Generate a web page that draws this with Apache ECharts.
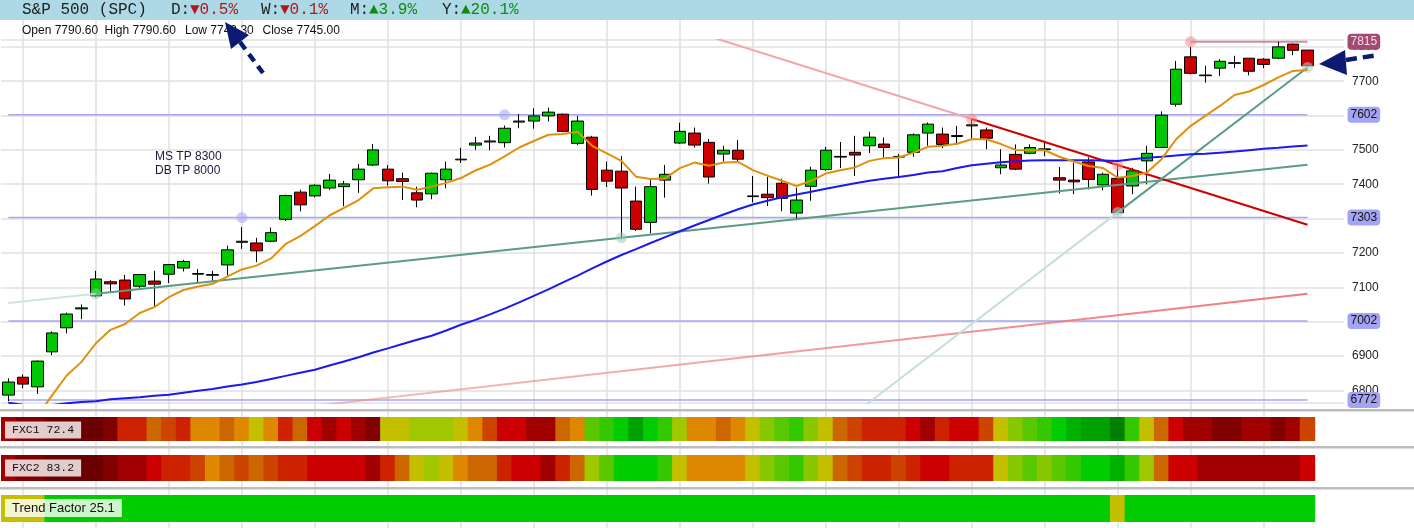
<!DOCTYPE html>
<html>
<head>
<meta charset="utf-8">
<title>S&amp;P 500 (SPC)</title>
<script src="https://cdn.jsdelivr.net/npm/echarts@6/dist/echarts.min.js"></script>
<style>
html, body { margin: 0; padding: 0; background: #fff; }
#chart-panel { width: 1414px; height: 528px; }
</style>
</head>
<body>
<div id="chart-panel"></div>
<script>
// daily candles: [open, close, low, high]
var candles = [
    [6786, 6824, 6768, 6835], [6838, 6818, 6806, 6846], [6810, 6885, 6789, 6887], [6912, 6967, 6902, 6972],
    [6982, 7022, 6966, 7026], [7037, 7040, 7007, 7050], [7075, 7124, 7072, 7148], [7116, 7110, 7083, 7121],
    [7121, 7066, 7047, 7136], [7103, 7137, 7098, 7139], [7118, 7109, 7042, 7148], [7138, 7166, 7112, 7168],
    [7156, 7175, 7146, 7180], [7138, 7140, 7115, 7153], [7135, 7137, 7115, 7148], [7165, 7209, 7134, 7221],
    [7231, 7234, 7212, 7275], [7229, 7206, 7173, 7244], [7234, 7259, 7231, 7274], [7298, 7367, 7293, 7370],
    [7377, 7340, 7321, 7384], [7366, 7397, 7362, 7400], [7389, 7412, 7383, 7430], [7393, 7401, 7336, 7410],
    [7413, 7444, 7375, 7459], [7456, 7500, 7453, 7517], [7444, 7410, 7396, 7456], [7416, 7408, 7354, 7434],
    [7375, 7354, 7333, 7393], [7372, 7432, 7356, 7434], [7413, 7444, 7388, 7466], [7471, 7473, 7462, 7506],
    [7514, 7520, 7500, 7538], [7523, 7526, 7499, 7541], [7521, 7563, 7507, 7571], [7581, 7584, 7563, 7604],
    [7584, 7599, 7562, 7621], [7599, 7610, 7583, 7623], [7604, 7554, 7551, 7606], [7519, 7584, 7514, 7599],
    [7537, 7385, 7367, 7541], [7441, 7409, 7392, 7466], [7438, 7389, 7240, 7482], [7351, 7269, 7264, 7393],
    [7289, 7393, 7257, 7414], [7412, 7429, 7361, 7456], [7520, 7554, 7517, 7579], [7549, 7514, 7507, 7565],
    [7522, 7421, 7402, 7532], [7488, 7499, 7466, 7512], [7499, 7473, 7463, 7529], [7364, 7366, 7347, 7424],
    [7371, 7361, 7336, 7422], [7403, 7359, 7321, 7416], [7316, 7354, 7295, 7390], [7394, 7441, 7352, 7451],
    [7443, 7499, 7439, 7509], [7479, 7481, 7447, 7523], [7493, 7485, 7424, 7541], [7512, 7537, 7491, 7553],
    [7517, 7507, 7478, 7536], [7479, 7481, 7418, 7488], [7493, 7544, 7480, 7548], [7549, 7575, 7512, 7580],
    [7546, 7516, 7505, 7565], [7539, 7542, 7516, 7570], [7570, 7573, 7531, 7592], [7558, 7534, 7502, 7565],
    [7448, 7456, 7429, 7502], [7487, 7444, 7441, 7516], [7490, 7507, 7487, 7516], [7501, 7503, 7482, 7526],
    [7419, 7412, 7373, 7450], [7412, 7407, 7371, 7463], [7465, 7414, 7385, 7478], [7398, 7429, 7382, 7434],
    [7417, 7317, 7312, 7460], [7395, 7439, 7371, 7448], [7468, 7490, 7400, 7512], [7507, 7601, 7505, 7612],
    [7633, 7735, 7626, 7759], [7771, 7723, 7720, 7800], [7716, 7718, 7696, 7745], [7738, 7758, 7715, 7764],
    [7752, 7754, 7738, 7774], [7767, 7729, 7717, 7767], [7764, 7749, 7738, 7767], [7767, 7800, 7764, 7815],
    [7808, 7790, 7776, 7810], [7790.6, 7745, 7743.3, 7790.6]
];

var fastAvg = ['-', '-', 6727, 6785, 6843, 6882, 6937, 6976, 6993, 7025,
    7042, 7071, 7092, 7102, 7110, 7131, 7152, 7163, 7184, 7226,
    7249, 7278, 7309, 7331, 7354, 7388, 7391, 7393, 7384, 7393,
    7404, 7418, 7440, 7457, 7481, 7507, 7526, 7544, 7546, 7553,
    7512, 7490, 7468, 7422, 7415, 7417, 7447, 7463, 7454, 7463,
    7465, 7441, 7425, 7410, 7395, 7410, 7431, 7441, 7449, 7468,
    7476, 7478, 7492, 7509, 7512, 7518, 7531, 7531, 7517, 7500,
    7499, 7499, 7480, 7466, 7453, 7447, 7419, 7424, 7434, 7473,
    7531, 7570, 7599, 7628, 7660, 7670, 7689, 7711, 7730, 7733];

var slowAvg = [6764, 6758, 6755, 6757, 6762, 6766, 6768, 6774, 6777, 6780,
    6784, 6787, 6793, 6799, 6804, 6811, 6817, 6824, 6833, 6842,
    6851, 6860, 6872, 6884, 6896, 6910, 6922, 6935, 6947, 6959,
    6974, 6991, 7005, 7021, 7038, 7056, 7075, 7094, 7114, 7134,
    7155, 7175, 7194, 7211, 7229, 7246, 7263, 7280, 7296, 7312,
    7327, 7341, 7352, 7362, 7370, 7378, 7387, 7395, 7403, 7410,
    7416, 7421, 7427, 7434, 7438, 7447, 7455, 7460, 7464, 7467,
    7469, 7470, 7470, 7470, 7470, 7469, 7468, 7473, 7477, 7480,
    7484, 7487, 7489, 7492, 7495, 7499, 7503, 7506, 7510, 7513];

// support / resistance levels shown on the price axis
var levels = [7602, 7303, 7002, 6772];
var topLevel = 7815, topLevelFrom = 81;
var levelAnchors = [[16, 7303], [34, 7602]];

// trend lines as [candle index, price]
var greenTrendFaint = [[0, 7054], [6, 7081]];
var greenTrend = [[6, 7081], [42, 7244], [89, 7457]];
var greenAnchors = [[6, 7081], [42, 7244]];
var redTrendFaint = [[45, 7871], [66, 7590]];
var redTrend = [[66, 7590], [76, 7456], [89, 7282]];
var redAnchors = [[66, 7590], [76, 7456], [81, 7815]];
var pinkTrend = [[20, 6750], [89, 7081]];
var tealTrendFaint = [[55, 6636], [76, 7318]];
var tealTrend = [[76, 7318], [89, 7740]];
var tealAnchors = [[76, 7318], [89, 7740]];

// indicator strips, one colour step per candle (0 = strong red ... 16 = strong green)
var fxc1 = [2, 1, 1, 0, 0, 0, 0, 1, 4, 4, 6, 5, 4, 7, 7, 6, 7, 8, 7, 4,
    6, 3, 2, 3, 2, 1, 8, 8, 9, 9, 9, 8, 7, 5, 3, 3, 2, 2, 6, 7,
    11, 12, 13, 15, 13, 12, 9, 7, 7, 6, 7, 8, 10, 11, 12, 10, 8, 6, 5, 4,
    4, 4, 3, 2, 4, 3, 3, 5, 8, 10, 11, 12, 13, 14, 15, 15, 16, 12, 8, 6,
    3, 2, 2, 1, 1, 2, 2, 1, 2, 5];
var fxc2 = [2, 1, 1, 0, 0, 0, 0, 1, 2, 2, 3, 4, 4, 5, 7, 6, 5, 6, 5, 4,
    4, 3, 3, 3, 3, 2, 4, 6, 8, 9, 8, 7, 6, 6, 4, 3, 3, 2, 4, 6,
    9, 11, 13, 13, 13, 12, 8, 7, 7, 7, 7, 8, 10, 11, 12, 10, 8, 6, 5, 4,
    4, 5, 4, 3, 3, 4, 4, 4, 8, 10, 11, 10, 11, 12, 13, 13, 14, 12, 9, 6,
    3, 3, 2, 2, 2, 2, 2, 2, 2, 3];
var trendFactor = [8, 8, 8, 13, 13, 13, 13, 13, 13, 13, 13, 13, 13, 13, 13, 13, 13, 13, 13, 13,
    13, 13, 13, 13, 13, 13, 13, 13, 13, 13, 13, 13, 13, 13, 13, 13, 13, 13, 13, 13,
    13, 13, 13, 13, 13, 13, 13, 13, 13, 13, 13, 13, 13, 13, 13, 13, 13, 13, 13, 13,
    13, 13, 13, 13, 13, 13, 13, 13, 13, 13, 13, 13, 13, 13, 13, 13, 8, 13, 13, 13,
    13, 13, 13, 13, 13, 13, 13, 13, 13, 13];
var palette = ['#6a0000', '#800000', '#a00000', '#cc0000', '#cc2200', '#cc4400', '#cc6600', '#dd8800',
    '#c4c000', '#a0c800', '#88c800', '#5ac800', '#33c800', '#00cc00', '#00b000', '#00a000', '#008000'];

var header = { name: 'S&P 500 (SPC)', day: '▼0.5%', week: '▼0.1%', month: '▲3.9%', year: '▲20.1%' };
var lastBar = 'Open 7790.60|High 7790.60|Low 7743.30|Close 7745.00'.split('|');

var days = [];
for (var d = 0; d < 92; d++) { days.push('D' + (d + 1)); }

var sans = 'Arial, "Liberation Sans", sans-serif';
var mono = '"Liberation Mono", "Courier New", monospace';

// one strip = one bar per candle, a bit wider than the band so no seams show
function strip(levelsArr, idx) {
    return {
        type: 'bar', xAxisIndex: idx, yAxisIndex: idx, barWidth: 15.4, silent: true,
        data: levelsArr.map(function (lv) {
            return { value: 1, itemStyle: { color: palette[lv] } };
        })
    };
}

function trendLine(points, color, width, z) {
    return {
        type: 'line', xAxisIndex: 1, yAxisIndex: 1, data: points, symbol: 'none', silent: true,
        lineStyle: { color: color, width: width }, z: z || 4
    };
}

function dots(points, color) {
    return {
        type: 'scatter', xAxisIndex: 1, yAxisIndex: 1, data: points, symbolSize: 11, silent: true,
        itemStyle: { color: color }, z: 5
    };
}

var series = [];
levels.forEach(function (lv) {
    series.push({
        type: 'line', xAxisIndex: 1, yAxisIndex: 1, data: [[0, lv], [89, lv]], symbol: 'none', silent: true,
        lineStyle: { color: '#a6a6f2', width: 1.5 }, z: 1,
        endLabel: { show: true, formatter: String(lv), distance: 40, backgroundColor: '#a4a4f4', color: '#111',
            borderRadius: 4, padding: [2, 3], fontSize: 12, fontFamily: sans }
    });
});
series.push({
    type: 'line', xAxisIndex: 1, yAxisIndex: 1, data: [[topLevelFrom, topLevel], [89, topLevel]], symbol: 'none', silent: true,
    lineStyle: { color: '#c890a8', width: 2 }, z: 1,
    endLabel: { show: true, formatter: String(topLevel), distance: 40, backgroundColor: '#a24a72', color: '#f6dce8',
        borderRadius: 4, padding: [2, 3], fontSize: 12, fontFamily: sans }
});
series.push({
    type: 'candlestick', xAxisIndex: 1, yAxisIndex: 1, data: candles, barWidth: 12, silent: true, z: 2,
    itemStyle: { color: '#00c800', color0: '#cc0000', borderColor: '#000', borderColor0: '#000', borderWidth: 1 }
});
series.push(trendLine(greenTrendFaint, '#cfe5dc', 2));
series.push(trendLine(greenTrend, '#5a9c84', 2));
series.push(trendLine(redTrendFaint, '#f4a6a6', 2));
series.push(trendLine(redTrend, '#cc0000', 2));
series.push(trendLine(pinkTrend, {
    type: 'linear', x: 0, y: 0, x2: 1, y2: 0,
    colorStops: [{ offset: 0, color: 'rgba(240,140,140,0.55)' }, { offset: 1, color: 'rgba(240,120,120,1)' }]
}, 2));
series.push(trendLine(tealTrendFaint, '#c6dfda', 2));
series.push(trendLine(tealTrend, '#5a9c88', 2));
series.push(trendLine(slowAvg.map(function (v, i) { return [i, v]; }), '#1a1af0', 2, 6));
series.push(trendLine(fastAvg.map(function (v, i) { return [i, v]; }), '#e0900c', 2, 6));
series.push(dots(levelAnchors, 'rgba(170,170,245,0.75)'));
series.push(dots(greenAnchors, 'rgba(150,200,175,0.6)'));
series.push(dots(redAnchors, 'rgba(245,130,140,0.65)'));
series.push(dots(tealAnchors, 'rgba(170,210,195,0.7)'));
series.push(strip(fxc1, 2));
series.push(strip(fxc2, 3));
series.push(strip(trendFactor, 4));

function hiddenCat(grid, data) {
    return { type: 'category', gridIndex: grid, data: data, show: false };
}
function hiddenVal(grid) {
    return { type: 'value', gridIndex: grid, min: 0, max: 1, show: false, splitLine: { show: false } };
}

function headerText(x, text, color) {
    return { type: 'text', x: x, y: 10, z: 101,
        style: { text: text, fill: color, fontSize: 16, fontFamily: mono, verticalAlign: 'middle' } };
}
function stripLabel(y, text, font, size) {
    return { type: 'text', x: 5, y: y, z: 101,
        style: { text: text, fill: '#111', fontSize: size, fontFamily: font, verticalAlign: 'middle',
            backgroundColor: 'rgba(255,255,255,0.8)', padding: [3, 7, 2, 7] } };
}

var graphics = [
    { type: 'rect', x: 0, y: 0, z: 100, shape: { width: 1414, height: 20 }, style: { fill: '#add8e6' } },
    headerText(22, header.name, '#222'),
    headerText(171, 'D:', '#222'), headerText(190, header.day, '#b01818'),
    headerText(261, 'W:', '#222'), headerText(280, header.week, '#b01818'),
    headerText(350, 'M:', '#222'), headerText(369, header.month, '#108a10'),
    headerText(442, 'Y:', '#222'), headerText(461, header.year, '#108a10'),
    { type: 'text', x: 155, y: 157, z: 101, style: { text: 'MS TP 8300', fill: '#1a1a40', fontSize: 12, fontFamily: sans, verticalAlign: 'middle' } },
    { type: 'text', x: 155, y: 171, z: 101, style: { text: 'DB TP 8000', fill: '#1a1a40', fontSize: 12, fontFamily: sans, verticalAlign: 'middle' } },
    { type: 'rect', x: 0, y: 409, z: 100, shape: { width: 1414, height: 2.5 }, style: { fill: '#bdbdbd' } },
    { type: 'rect', x: 0, y: 446, z: 100, shape: { width: 1414, height: 2.5 }, style: { fill: '#bdbdbd' } },
    { type: 'rect', x: 0, y: 487, z: 100, shape: { width: 1414, height: 2.5 }, style: { fill: '#bdbdbd' } },
    stripLabel(430, 'FXC1 72.4', mono, 11.5),
    stripLabel(468, 'FXC2 83.2', mono, 11.5),
    stripLabel(508, 'Trend Factor 25.1', sans, 13),
    // dashed pointer arrows
    { type: 'polyline', z: 103, shape: { points: [[240, 42], [263, 73]] }, style: { stroke: '#0c1a72', lineWidth: 4.5, lineDash: [9, 6], fill: null } },
    { type: 'polygon', z: 103, shape: { points: [[225, 22], [249, 35], [231, 49]] }, style: { fill: '#0c1a72' } },
    { type: 'polyline', z: 103, shape: { points: [[1346, 60], [1378, 55]] }, style: { stroke: '#0c1a72', lineWidth: 4.5, lineDash: [11, 6], fill: null } },
    { type: 'polygon', z: 103, shape: { points: [[1319, 64], [1345, 50], [1347, 75]] }, style: { fill: '#0c1a72' } }
];
var xs = [22, 104.5, 185, 262.5];
lastBar.forEach(function (t, i) {
    graphics.push({ type: 'text', x: xs[i], y: 31, z: 102, style: { text: t, fill: '#111', fontSize: 12, fontFamily: sans, verticalAlign: 'middle' } });
});

var option = {
    animation: false,
    backgroundColor: '#fff',
    grid: [
        { left: 8.3, right: 106.3, top: 20, bottom: 0 },
        { left: 1, right: 70, top: 40, bottom: 125 },
        { left: 1, right: 70, top: 417, height: 24 },
        { left: 1, right: 70, top: 455, height: 26 },
        { left: 1, right: 70, top: 495, height: 27 }
    ],
    xAxis: [
        {
            type: 'category', gridIndex: 0, data: days.slice(0, 90), boundaryGap: false,
            axisLine: { show: false }, axisTick: { show: false }, axisLabel: { show: false },
            splitLine: { show: true, interval: function (index) { return index % 5 === 1; },
                lineStyle: { color: '#e0e0e0', width: 1.5 } }
        },
        hiddenCat(1, days), hiddenCat(2, days), hiddenCat(3, days), hiddenCat(4, days)
    ],
    yAxis: [
        { type: 'value', gridIndex: 0, show: false, splitLine: { show: false } },
        {
            type: 'value', gridIndex: 1, position: 'right', min: 6763, max: 7820, splitNumber: 10,
            axisLine: { show: false }, axisTick: { show: false },
            axisLabel: { color: '#222', fontSize: 12, fontFamily: sans, margin: 8,
                formatter: function (v) { return v % 100 === 0 ? String(v) : ''; } },
            splitLine: { lineStyle: { color: '#e0e0e0', width: 1.5 } }
        },
        hiddenVal(2), hiddenVal(3), hiddenVal(4)
    ],
    series: series,
    graphic: graphics
};

var myChart = echarts.init(document.getElementById('chart-panel'));
myChart.setOption(option);
</script>
</body>
</html>
